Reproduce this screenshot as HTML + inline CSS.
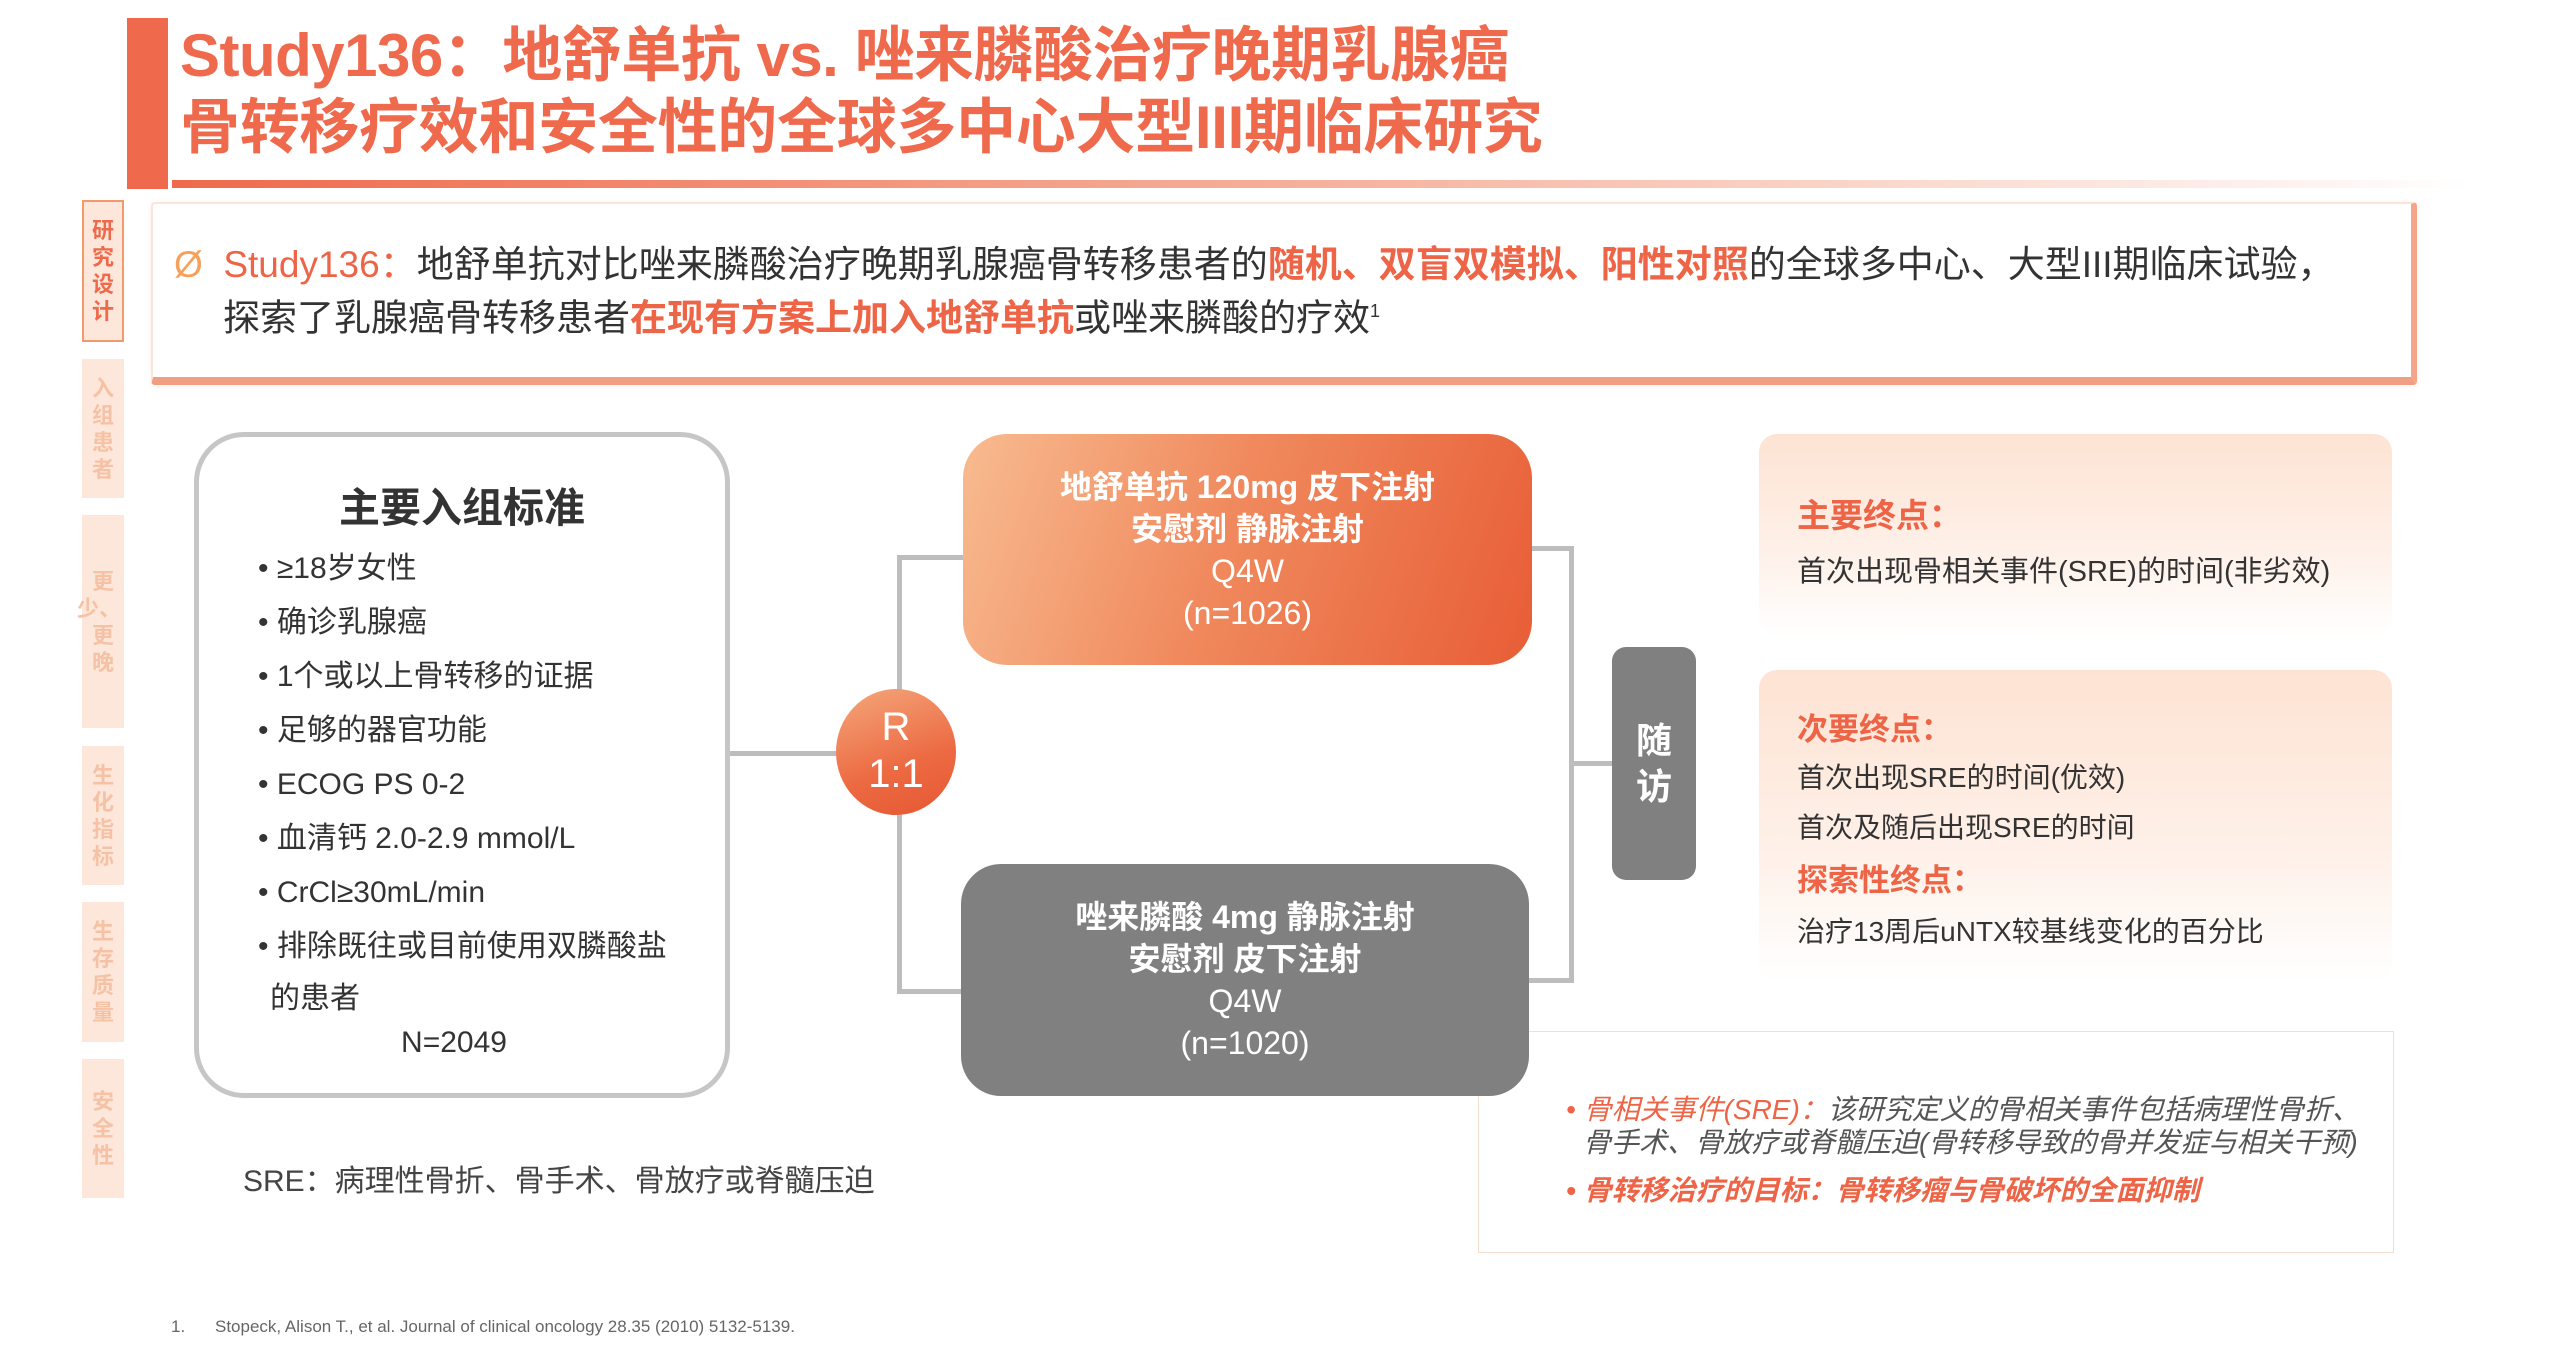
<!DOCTYPE html>
<html><head><meta charset="utf-8">
<style>
*{margin:0;padding:0;box-sizing:border-box}
body{width:2560px;height:1347px;background:#fff;position:relative;overflow:hidden;font-family:"Liberation Sans","Noto Sans CJK SC",sans-serif;color:#333}
.a{position:absolute}
.t{position:absolute;white-space:nowrap}
.tab{position:absolute;left:82px;width:42px;background:#fde7da;display:flex;flex-direction:column;align-items:center;justify-content:center;font-size:22px;line-height:27px;color:#f6c2a6;font-weight:bold}
.ln{position:absolute;background:#bdbdbd}
.bul{position:absolute;left:258px;font-size:30px;line-height:40px;white-space:nowrap;color:#333}
.red{color:#ee6446;font-weight:bold}
</style></head><body>
<div class="a" style="left:127px;top:18px;width:41px;height:171px;background:#ef6a4c"></div>
<div class="t" style="left:180px;top:22px;font-size:60px;line-height:68px;font-weight:bold;color:#ef6a4c;letter-spacing:-0.5px">Study136：地舒单抗 vs. 唑来膦酸治疗晚期乳腺癌</div>
<div class="t" style="left:180px;top:94px;font-size:60px;line-height:68px;font-weight:bold;color:#ef6a4c;letter-spacing:-0.3px">骨转移疗效和安全性的全球多中心大型III期临床研究</div>
<div class="a" style="left:172px;top:180px;width:2300px;height:8px;background:linear-gradient(90deg,#ef6a4c,#f6b19c 50%,rgba(255,255,255,0))"></div>

<div class="tab" style="top:200px;height:142px;border:2px solid #f29a6c;color:#ee6a4b"><div>研</div><div>究</div><div>设</div><div>计</div></div>
<div class="tab" style="top:359px;height:139px"><div>入</div><div>组</div><div>患</div><div>者</div></div>
<div class="tab" style="top:515px;height:213px"><div>更</div><div style="margin-left:-8px">少、</div><div>更</div><div>晚</div></div>
<div class="tab" style="top:746px;height:139px"><div>生</div><div>化</div><div>指</div><div>标</div></div>
<div class="tab" style="top:902px;height:140px"><div>生</div><div>存</div><div>质</div><div>量</div></div>
<div class="tab" style="top:1059px;height:139px"><div>安</div><div>全</div><div>性</div></div>

<div class="a" style="left:151px;top:202px;width:2266px;height:183px;background:#fff;border:2px solid #fbe4d8;border-right:6px solid #f3a68a;border-bottom:8px solid #f19f83;border-radius:4px;box-shadow:0 1px 6px rgba(240,150,120,.15)"></div>
<div class="t" style="left:174px;top:243px;font-size:37px;line-height:44px"><span style="color:#f6a05a">Ø</span>&nbsp;&nbsp;<span class="red" style="font-weight:normal">Study136：</span>地舒单抗对比唑来膦酸治疗晚期乳腺癌骨转移患者的<span class="red">随机、双盲双模拟、阳性对照</span>的全球多中心、大型III期临床试验，</div>
<div class="t" style="left:223px;top:289px;font-size:37px;line-height:44px">探索了乳腺癌骨转移患者<span class="red">在现有方案上加入地舒单抗</span>或唑来膦酸的疗效<sup style="font-size:18px">1</sup></div>

<div class="a" style="left:194px;top:432px;width:536px;height:666px;border:5px solid #c6c6c6;border-radius:50px;background:#fff"></div>
<div class="t" style="left:194px;width:536px;text-align:center;top:486px;font-size:41px;line-height:44px;font-weight:bold;color:#333">主要入组标准</div>
<div class="bul" style="top:549px">• ≥18岁女性</div>
<div class="bul" style="top:603px">• 确诊乳腺癌</div>
<div class="bul" style="top:657px">• 1个或以上骨转移的证据</div>
<div class="bul" style="top:711px">• 足够的器官功能</div>
<div class="bul" style="top:765px">• ECOG PS 0-2</div>
<div class="bul" style="top:819px">• 血清钙 2.0-2.9 mmol/L</div>
<div class="bul" style="top:873px">• CrCl≥30mL/min</div>
<div class="bul" style="top:927px">• 排除既往或目前使用双膦酸盐</div>
<div class="bul" style="top:979px;left:270px">的患者</div>
<div class="t" style="left:354px;width:200px;text-align:center;top:1023px;font-size:30px;line-height:40px">N=2049</div>

<div class="ln" style="left:730px;top:751px;width:110px;height:5px"></div>
<div class="ln" style="left:897px;top:555px;width:5px;height:439px"></div>
<div class="ln" style="left:897px;top:555px;width:70px;height:5px"></div>
<div class="ln" style="left:897px;top:989px;width:70px;height:5px"></div>
<div class="ln" style="left:1528px;top:546px;width:46px;height:5px"></div>
<div class="ln" style="left:1569px;top:546px;width:5px;height:437px"></div>
<div class="ln" style="left:1528px;top:978px;width:46px;height:5px"></div>
<div class="ln" style="left:1569px;top:761px;width:45px;height:5px"></div>

<div class="a" style="left:1478px;top:1031px;width:916px;height:222px;border:1.5px solid #f6ddd0;background:#fff"></div>

<div class="a" style="left:836px;top:689px;width:120px;height:126px;border-radius:50%;background:linear-gradient(160deg,#f5a77c,#ec6a42 60%,#e65732)"></div>
<div class="t" style="left:836px;width:120px;text-align:center;top:704px;font-size:40px;line-height:46px;color:#fff">R</div>
<div class="t" style="left:836px;width:120px;text-align:center;top:751px;font-size:40px;line-height:46px;color:#fff">1:1</div>

<div class="a" style="left:963px;top:434px;width:569px;height:231px;border-radius:44px;background:linear-gradient(110deg,#f8bb90 0%,#f08a5e 45%,#e85d36 100%)"></div>
<div class="a" style="left:963px;top:466px;width:569px;text-align:center;color:#fff;font-size:32px;line-height:42px;font-weight:bold">地舒单抗 120mg 皮下注射<br>安慰剂 静脉注射<br><span style="font-weight:normal">Q4W<br>(n=1026)</span></div>

<div class="a" style="left:961px;top:864px;width:568px;height:232px;border-radius:40px;background:#808080"></div>
<div class="a" style="left:961px;top:896px;width:568px;text-align:center;color:#fff;font-size:32px;line-height:42px;font-weight:bold">唑来膦酸 4mg 静脉注射<br>安慰剂 皮下注射<br><span style="font-weight:normal">Q4W<br>(n=1020)</span></div>

<div class="a" style="left:1612px;top:647px;width:84px;height:233px;border-radius:14px;background:#808080"></div>
<div class="a" style="left:1612px;top:718px;width:84px;text-align:center;color:#fff;font-size:36px;line-height:46px;font-weight:bold">随<br>访</div>

<div class="a" style="left:1759px;top:434px;width:633px;height:202px;border-radius:18px;background:linear-gradient(180deg,#fde3d3,#fef1e9 60%,#fff)"></div>
<div class="t" style="left:1797px;top:496px;font-size:33px;line-height:40px;font-weight:bold;color:#ee6446">主要终点：</div>
<div class="t" style="left:1797px;top:553px;font-size:29px;line-height:38px">首次出现骨相关事件(SRE)的时间(非劣效)</div>

<div class="a" style="left:1759px;top:670px;width:633px;height:311px;border-radius:18px;background:linear-gradient(180deg,#fde3d3,#fef1e9 60%,#fff)"></div>
<div class="t" style="left:1797px;top:711px;font-size:31px;line-height:38px;font-weight:bold;color:#ee6446">次要终点：</div>
<div class="t" style="left:1797px;top:760px;font-size:28px;line-height:36px">首次出现SRE的时间(优效)</div>
<div class="t" style="left:1797px;top:810px;font-size:28px;line-height:36px">首次及随后出现SRE的时间</div>
<div class="t" style="left:1797px;top:862px;font-size:31px;line-height:38px;font-weight:bold;color:#ee6446">探索性终点：</div>
<div class="t" style="left:1797px;top:914px;font-size:28px;line-height:36px">治疗13周后uNTX较基线变化的百分比</div>

<div class="t" style="left:1566px;top:1092px;font-size:28px;line-height:36px;font-style:italic;color:#555"><span style="color:#ee6446">• 骨相关事件(SRE)：</span>该研究定义的骨相关事件包括病理性骨折、</div>
<div class="t" style="left:1583px;top:1125px;font-size:28px;line-height:36px;font-style:italic;color:#555">骨手术、骨放疗或脊髓压迫(骨转移导致的骨并发症与相关干预)</div>
<div class="t" style="left:1566px;top:1173px;font-size:28px;line-height:36px;font-style:italic;font-weight:bold;color:#ee6446">• 骨转移治疗的目标：骨转移瘤与骨破坏的全面抑制</div>

<div class="t" style="left:243px;top:1163px;font-size:30px;line-height:38px;color:#444">SRE：病理性骨折、骨手术、骨放疗或脊髓压迫</div>
<div class="t" style="left:171px;top:1316px;font-size:17px;line-height:22px;color:#666">1.</div>
<div class="t" style="left:215px;top:1316px;font-size:17px;line-height:22px;color:#666">Stopeck, Alison T., et al. Journal of clinical oncology 28.35 (2010) 5132-5139.</div>
</body></html>
